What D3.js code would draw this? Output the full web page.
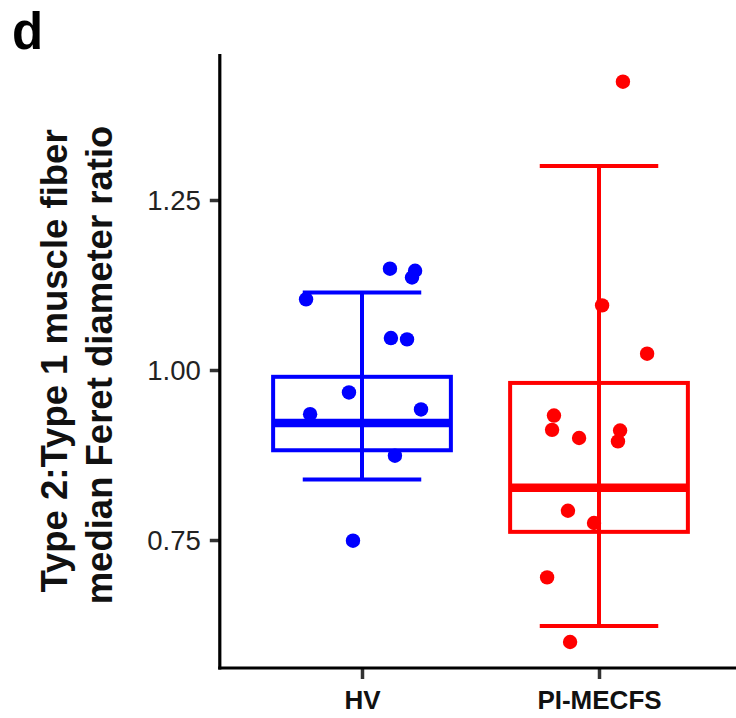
<!DOCTYPE html>
<html><head><meta charset="utf-8">
<script src="https://cdn.jsdelivr.net/npm/d3@7"></script>
<style>
html,body{margin:0;padding:0;background:#fff;}
svg{display:block;font-family:"Liberation Sans",Arial,sans-serif;}
</style></head>
<body><svg id="chart" width="736" height="718"></svg>
<script>
const groups = ["HV", "PI-MECFS"];
const groupColors = ["#0000FF", "#FF0000"];
// box stats: lower whisker, q1, median, q3, upper whisker
const hvBox = [0.839, 0.882, 0.922, 0.990, 1.114];
const pimBox = [0.6235, 0.762, 0.827, 0.981, 1.300];
const hvValues = [1.149, 1.146, 1.136, 1.104, 1.047, 1.045, 0.967, 0.935, 0.942, 0.874, 0.749];
const hvJitter = [0.118, 0.224, 0.211, -0.236, 0.122, 0.190, -0.055, -0.219, 0.249, 0.139, -0.038];
const pimValues = [1.424, 1.095, 1.024, 0.933, 0.912, 0.900, 0.911, 0.895, 0.793, 0.775, 0.695, 0.600];
const pimJitter = [0.101, 0.013, 0.203, -0.190, -0.198, -0.084, 0.089, 0.080, -0.131, -0.021, -0.219, -0.122];
const yTicks = [0.75, 1.00, 1.25];
const yDomain = [0.5618, 1.4647];
const yLabelLines = ["Type 2:Type 1 muscle fiber", "median Feret diameter ratio"];
const panelLetter = "d";

const svg = d3.select("#chart");
const pLeft = 219.8, pRight = 741.2, pTop = 54, pBottom = 668;

const x = d3.scalePoint().domain(groups).range([pLeft, pRight]).padding(0.6);
const step = x.step();
const y = d3.scaleLinear().domain(yDomain).range([pBottom, pTop]);

const boxes = [hvBox, pimBox];
const pts = [hvValues.map((v,i)=>({v, j:hvJitter[i]})), pimValues.map((v,i)=>({v, j:pimJitter[i]}))];

const g = svg.append("g");
groups.forEach((grp, gi) => {
  const cx = x(grp), col = groupColors[gi], b = boxes[gi];
  const bw = 0.75 * step, ew = 0.5 * step;
  g.append("line").attr("x1", cx).attr("x2", cx).attr("y1", y(b[0])).attr("y2", y(b[4]))
    .attr("stroke", col).attr("stroke-width", 4);
  [b[0], b[4]].forEach(v => g.append("line").attr("x1", cx - ew/2).attr("x2", cx + ew/2)
    .attr("y1", y(v)).attr("y2", y(v)).attr("stroke", col).attr("stroke-width", 4));
  g.append("rect").attr("x", cx - bw/2).attr("width", bw)
    .attr("y", y(b[3])).attr("height", y(b[1]) - y(b[3]))
    .attr("fill", "none").attr("stroke", col).attr("stroke-width", 4);
  g.append("line").attr("x1", cx - bw/2).attr("x2", cx + bw/2)
    .attr("y1", y(b[2])).attr("y2", y(b[2])).attr("stroke", col).attr("stroke-width", 8.5);
});
groups.forEach((grp, gi) => {
  g.selectAll(null).data(pts[gi]).enter().append("circle")
    .attr("cx", d => x(grp) + d.j * step).attr("cy", d => y(d.v))
    .attr("r", 7.2).attr("fill", groupColors[gi]);
});

const yAxis = svg.append("g").attr("transform", `translate(${pLeft},0)`)
  .call(d3.axisLeft(y).tickValues(yTicks).tickFormat(d3.format(".2f")).tickSize(10).tickPadding(9));
yAxis.select(".domain").remove();
yAxis.selectAll(".tick line").attr("stroke", "#333").attr("stroke-width", 3.5);
yAxis.selectAll(".tick text").attr("fill", "#222").style("font-size", "27.5px").attr("dy", "0.36em");
svg.append("line").attr("x1", pLeft).attr("x2", pLeft).attr("y1", pTop).attr("y2", pBottom + 1.5)
  .attr("stroke", "#000").attr("stroke-width", 3.2);

const xAxis = svg.append("g").attr("transform", `translate(0,${pBottom})`)
  .call(d3.axisBottom(x).tickSize(11).tickPadding(10));
xAxis.select(".domain").remove();
xAxis.selectAll(".tick line").attr("stroke", "#333").attr("stroke-width", 3.5);
xAxis.selectAll(".tick text").attr("fill", "#111").style("font-size", "26px").style("font-weight", "bold")
  .attr("dy", "0.76em");
svg.append("line").attr("x1", pLeft - 1.6).attr("x2", 736).attr("y1", pBottom).attr("y2", pBottom)
  .attr("stroke", "#000").attr("stroke-width", 3.2);

const yl = svg.append("text").attr("transform", `translate(0,${(pTop+pBottom)/2}) rotate(-90)`)
  .attr("text-anchor", "middle").style("font-weight", "bold").style("font-size", "36.5px").attr("fill", "#111");
yl.append("tspan").attr("x", 0).attr("y", 67).text(yLabelLines[0]);
yl.append("tspan").attr("x", -4).attr("y", 112).text(yLabelLines[1]);

svg.append("text").attr("x", 12).attr("y", 49).style("font-weight", "bold").style("font-size", "51px")
  .attr("fill", "#000").text(panelLetter);
</script></body></html>
